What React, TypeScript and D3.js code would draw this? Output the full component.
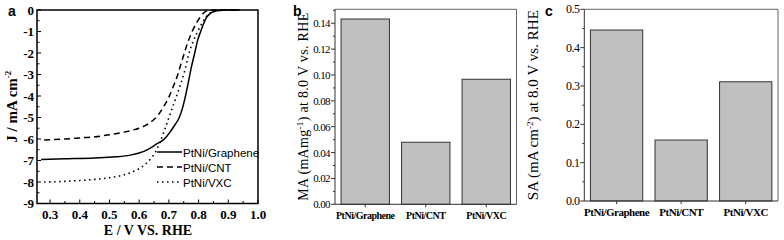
import React from "react";
import * as d3 from "d3";

// ---------- Panel a data (LSV curves) ----------
const E_GRAPHENE = [0.27, 0.35, 0.45, 0.52, 0.57, 0.6, 0.63, 0.66, 0.685, 0.7, 0.72, 0.735, 0.745, 0.755, 0.765, 0.775, 0.787, 0.797, 0.807, 0.818, 0.828, 0.84, 0.855, 0.87, 0.9, 0.94];
const J_GRAPHENE = [-6.95, -6.92, -6.88, -6.83, -6.75, -6.65, -6.48, -6.22, -6.0, -5.75, -5.35, -5.0, -4.6, -4.05, -3.4, -2.7, -2.0, -1.4, -1.0, -0.6, -0.32, -0.15, -0.06, -0.02, 0, 0];
const E_CNT = [0.28, 0.35, 0.4, 0.45, 0.5, 0.55, 0.58, 0.6, 0.62, 0.64, 0.66, 0.68, 0.7, 0.715, 0.73, 0.742, 0.752, 0.765, 0.78, 0.795, 0.807, 0.82, 0.835, 0.85, 0.9, 0.93];
const J_CNT = [-6.05, -6.0, -5.95, -5.9, -5.8, -5.68, -5.58, -5.5, -5.38, -5.2, -4.95, -4.55, -4.05, -3.55, -3.0, -2.45, -2.0, -1.45, -0.95, -0.55, -0.3, -0.1, -0.02, 0, 0, 0];
const E_VXC = [0.28, 0.35, 0.4, 0.45, 0.5, 0.54, 0.57, 0.6, 0.62, 0.64, 0.655, 0.67, 0.685, 0.7, 0.713, 0.726, 0.738, 0.75, 0.768, 0.782, 0.797, 0.812, 0.825, 0.84, 0.855, 0.87, 0.93];
const J_VXC = [-8.0, -7.97, -7.93, -7.88, -7.8, -7.7, -7.57, -7.38, -7.18, -6.9, -6.6, -6.15, -5.6, -5.0, -4.5, -4.0, -3.5, -3.0, -2.0, -1.45, -1.0, -0.6, -0.32, -0.13, -0.04, 0, 0];
const SERIES_NAMES = ["PtNi/Graphene", "PtNi/CNT", "PtNi/VXC"];
const X_TICKS_A = [0.3, 0.4, 0.5, 0.6, 0.7, 0.8, 0.9, 1.0];
const Y_TICKS_A = [0, -1, -2, -3, -4, -5, -6, -7, -8, -9];

// ---------- Panel b / c data ----------
const CATEGORIES = ["PtNi/Graphene", "PtNi/CNT", "PtNi/VXC"];
const MA_VALUES = [0.1433, 0.048, 0.0967];
const SA_VALUES = [0.446, 0.159, 0.311];
const Y_TICKS_B = [0, 0.02, 0.04, 0.06, 0.08, 0.1, 0.12, 0.14];
const Y_TICKS_C = [0, 0.1, 0.2, 0.3, 0.4, 0.5];

const SERIF = "'Liberation Serif', 'Times New Roman', serif";
const SANS = "'Liberation Sans', Arial, sans-serif";

function PanelA() {
  const left = 37, right = 258, top = 10, bottom = 203.5;
  const x = d3.scaleLinear().domain([0.256, 1.0]).range([left, right]);
  const y = d3.scaleLinear().domain([-9, 0]).range([bottom, top]);
  const line = d3.line<[number, number]>().x(d => x(d[0])).y(d => y(d[1])).curve(d3.curveMonotoneX);
  const g = line(E_GRAPHENE.map((e, i) => [e, J_GRAPHENE[i]])) || "";
  const c = line(E_CNT.map((e, i) => [e, J_CNT[i]])) || "";
  const v = line(E_VXC.map((e, i) => [e, J_VXC[i]])) || "";
  const xMinor = d3.range(0.3, 1.0001, 0.05);
  const yMinor = d3.range(-9, 0.001, 0.5);
  const dashes = [undefined, "6 4", "1.5 3.5"];
  return (
    <g>
      <text x={8} y={16} fontFamily={SANS} fontWeight="bold" fontSize={14}>a</text>
      <path d={g} fill="none" stroke="#000" strokeWidth={1.5} />
      <path d={c} fill="none" stroke="#000" strokeWidth={1.5} strokeDasharray="6 4" />
      <path d={v} fill="none" stroke="#000" strokeWidth={1.6} strokeDasharray="1.5 3.5" />
      <rect x={left} y={top} width={right - left} height={bottom - top} fill="none" stroke="#000" strokeWidth={1.5} />
      {xMinor.map((t, i) => (
        <line key={"xm" + i} x1={x(t)} x2={x(t)} y1={bottom} y2={bottom - (i % 2 === 0 ? 4 : 2.5)} stroke="#000" strokeWidth={1} />
      ))}
      {yMinor.map((t, i) => (
        <line key={"ym" + i} x1={left} x2={left + (Number.isInteger(t) ? 4 : 2.5)} y1={y(t)} y2={y(t)} stroke="#000" strokeWidth={1} />
      ))}
      {X_TICKS_A.map(t => (
        <text key={"xt" + t} x={x(t)} y={bottom + 15} textAnchor="middle" fontFamily={SERIF} fontWeight="bold" fontSize={13}>{t.toFixed(1)}</text>
      ))}
      {Y_TICKS_A.map(t => (
        <text key={"yt" + t} x={left - 3} y={y(t) + 4.5} textAnchor="end" fontFamily={SERIF} fontWeight="bold" fontSize={13}>{t}</text>
      ))}
      <text x={148} y={235} textAnchor="middle" fontFamily={SERIF} fontWeight="bold" fontSize={14}>E / V VS. RHE</text>
      <text transform={`translate(17, ${(top + bottom) / 2}) rotate(-90)`} textAnchor="middle" fontFamily={SERIF} fontWeight="bold" fontSize={15}>
        J / mA cm<tspan dy={-6} fontSize={9}>-2</tspan>
      </text>
      {SERIES_NAMES.map((name, i) => (
        <g key={name}>
          <line x1={157} x2={182} y1={152 + i * 15} y2={152 + i * 15} stroke="#000" strokeWidth={1.5} strokeDasharray={dashes[i]} />
          <text x={183} y={156.5 + i * 15} fontFamily={SANS} fontSize={11.5}>{name}</text>
        </g>
      ))}
    </g>
  );
}

function BarPanel(props: {
  left: number; right: number; top: number; bottom: number; max: number;
  values: number[]; ticks: number[]; minorStep: number; fmt: string;
  letter: string; letterX: number; labelX: number; labelFont: number; labelLen: number; tickFont: number; catFont: number; catY: number;
  padding: number; label: React.ReactNode;
}) {
  const { left, right, top, bottom, max, values, ticks, minorStep, fmt, letter, letterX, labelX, labelFont, labelLen, tickFont, catFont, catY, padding, label } = props;
  const x = d3.scaleBand<string>().domain(CATEGORIES).range([left, right]).paddingInner(padding).paddingOuter(padding / 2);
  const y = d3.scaleLinear().domain([0, max]).range([bottom, top]);
  const minor = d3.range(0, max + 1e-9, minorStep);
  const f = d3.format(fmt);
  return (
    <g>
      <text x={letterX} y={16} fontFamily={SANS} fontWeight="bold" fontSize={14}>{letter}</text>
      {CATEGORIES.map((cat, i) => (
        <rect key={cat} x={x(cat)} y={y(values[i])} width={x.bandwidth()} height={bottom - y(values[i])} fill="#c0c0c0" stroke="#333" strokeWidth={1} />
      ))}
      <line x1={left} x2={right} y1={top} y2={top} stroke="#666" strokeWidth={1} />
      <line x1={right} x2={right} y1={top} y2={bottom} stroke="#666" strokeWidth={1} />
      <line x1={left} x2={right} y1={bottom} y2={bottom} stroke="#333" strokeWidth={1} />
      <line x1={left} x2={left} y1={top} y2={bottom} stroke="#333" strokeWidth={1} />
      {minor.map((t, i) => (
        <line key={"m" + i} x1={left} x2={left - (i % 2 === 0 ? 4 : 2)} y1={y(t)} y2={y(t)} stroke="#333" strokeWidth={1} />
      ))}
      {CATEGORIES.map(cat => (
        <line key={"xt" + cat} x1={x(cat)! + x.bandwidth() / 2} x2={x(cat)! + x.bandwidth() / 2} y1={bottom} y2={bottom + 3} stroke="#333" strokeWidth={1} />
      ))}
      {ticks.map(t => (
        <text key={"t" + t} x={left - 5} y={y(t) + 4} textAnchor="end" fontFamily={SERIF} fontSize={tickFont} letterSpacing={-0.6}>{f(t)}</text>
      ))}
      {CATEGORIES.map(cat => (
        <text key={"c" + cat} x={x(cat)! + x.bandwidth() / 2} y={catY} textAnchor="middle" fontFamily={SERIF} fontWeight="bold" fontSize={catFont} letterSpacing={-0.5}>{cat}</text>
      ))}
      <text transform={`translate(${labelX}, ${(top + bottom) / 2}) rotate(-90)`} textAnchor="middle" fontFamily={SERIF} fontSize={labelFont} textLength={labelLen} lengthAdjust="spacing">
        {label}
      </text>
    </g>
  );
}

export default function App() {
  return (
    <svg width={784} height={240} style={{ position: "absolute", left: 0, top: 0, background: "#fff" }}>
      <rect x={0} y={0} width={784} height={240} fill="#fff" />
      <PanelA />
      <BarPanel
        left={335} right={516.5} top={9.3} bottom={204.3} max={0.1508}
        values={MA_VALUES} ticks={Y_TICKS_B} minorStep={0.01} fmt=".2f"
        letter="b" letterX={293} labelX={308} labelFont={14} labelLen={188} tickFont={11} catFont={10} catY={219}
        padding={0.2}
        label={<>MA (mAmg<tspan dy={-5} fontSize={9}>-1</tspan><tspan dy={5}>) at 8.0 V vs. RHE</tspan></>}
      />
      <BarPanel
        left={584.3} right={778} top={9.3} bottom={201} max={0.5}
        values={SA_VALUES} ticks={Y_TICKS_C} minorStep={0.05} fmt=".1f"
        letter="c" letterX={545} labelX={538} labelFont={15} labelLen={190} tickFont={12} catFont={11} catY={216}
        padding={0.19}
        label={<>SA (mA cm<tspan dy={-5} fontSize={9}>-2</tspan><tspan dy={5}>) at 8.0 V vs. RHE</tspan></>}
      />
    </svg>
  );
}
